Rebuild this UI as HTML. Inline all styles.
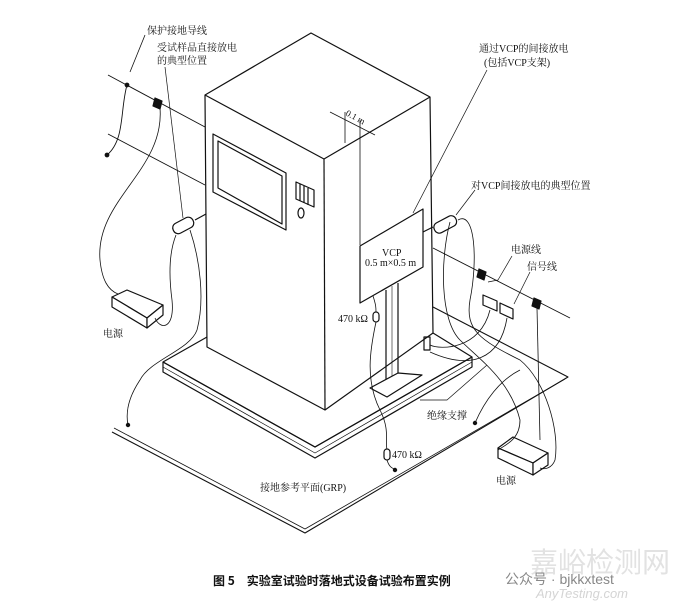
<!DOCTYPE html>
<html><head><meta charset="utf-8"><style>
html,body{margin:0;padding:0;background:#fff}
svg{display:block}
text{font-family:"Liberation Serif","Noto Serif CJK SC","Noto Sans CJK SC",serif;fill:#111}
</style></head><body>
<svg width="680" height="606" viewBox="0 0 680 606" xmlns="http://www.w3.org/2000/svg">
<g fill="none" stroke="#111" stroke-width="1.2" stroke-linejoin="round">
<!-- GRP -->
<polyline points="433,307 568,377 305,533 112,432" stroke-width="1.1"/>
<polyline points="565,379 305,529 114,428" stroke-width="0.8"/>
<!-- platform -->
<polygon points="163,362 207,337 433,333 472,357 315,447" fill="#fff"/>
<polyline points="163,362 163,372 315,458 472,367 472,357"/>
<polyline points="163,367 315,453 472,362" stroke-width="0.7"/>
<polyline points="163,362 315,447 472,357"/>
<!-- cabinet -->
<polygon points="205,95 311,33 430,97 433,333 325,410 207,347" fill="#fff"/>
<polyline points="205,95 324,159 430,97"/>
<line x1="324" y1="159" x2="325" y2="410"/>
<!-- screen -->
<polygon points="213,134 286,173 286,230 213,192"/>
<polygon points="218,141 282,176 282,224 218,188"/>
<polygon points="296,182 314,190 314,207 296,199"/>
<line x1="300" y1="184" x2="300" y2="201"/><line x1="304" y1="186" x2="304" y2="203"/><line x1="308" y1="188" x2="308" y2="205"/>
<ellipse cx="301" cy="213" rx="3" ry="5"/>
<!-- ground wire -->
<line x1="108" y1="75" x2="205" y2="127" stroke-width="0.9"/>
<line x1="108" y1="134" x2="205" y2="185" stroke-width="0.9"/>
<line x1="433" y1="248" x2="570" y2="318" stroke-width="0.9"/>
<path d="M127,85 C120,110 125,140 107,155" stroke-width="0.9"/>
<circle cx="127" cy="85" r="1.8" fill="#111"/><circle cx="107" cy="155" r="1.8" fill="#111"/>
<path d="M145,35 L130,72" stroke-width="0.8"/>
<polygon points="155,98 162,101 160,109 153,106" fill="#111"/>
<polygon points="479,269 486,272 484,280 477,277" fill="#111"/>
<polygon points="534,298 541,301 539,309 532,306" fill="#111"/>
<!-- 0.1 m -->
<line x1="345" y1="112" x2="345" y2="143" stroke-width="0.8"/>
<line x1="360" y1="120" x2="360" y2="245" stroke-width="0.8"/>
<line x1="330" y1="112" x2="375" y2="135" stroke-width="0.8"/>
<!-- VCP panel -->
<polygon points="360,246 423,209 423,267 360,303" fill="#fff"/>
<!-- stand -->
<line x1="386" y1="290" x2="386" y2="386"/><line x1="398" y1="283" x2="398" y2="380"/>
<line x1="392" y1="286" x2="392" y2="383" stroke-width="0.6"/>
<polygon points="370,388 398,373 422,375 387,397" fill="#fff"/>
<!-- probes -->
<rect x="172" y="220" width="22" height="11" rx="5" transform="rotate(-28 183 225)" fill="#fff"/>
<line x1="195" y1="220" x2="206" y2="214"/>
<rect x="433" y="219" width="24" height="11" rx="5" transform="rotate(-28 445 224)" fill="#fff"/>
<line x1="423" y1="232" x2="433" y2="227"/>
<!-- left power box -->
<polygon points="112,297 127,290 163,305 147,318" fill="#fff"/>
<polygon points="112,297 147,318 147,328 112,307" fill="#fff"/>
<polygon points="147,318 163,305 163,315 147,328" fill="#fff"/>
<!-- right power box -->
<polygon points="498,448 513,437 548,453 533,463" fill="#fff"/>
<polygon points="498,448 533,463 533,475 498,458" fill="#fff"/>
<polygon points="533,463 548,453 548,465 533,475" fill="#fff"/>
<!-- connectors -->
<polygon points="483,295 497,301 497,311 483,305"/>
<polygon points="500,303 513,309 513,319 500,313"/>
<rect x="424" y="337" width="6" height="13"/>
<!-- cables -->
<g stroke-width="0.8">
<path d="M160,108 C165,170 95,200 100,260 C102,280 108,290 118,294"/>
<path d="M155,318 C160,330 175,330 172,300 C168,270 170,250 176,235"/>
<path d="M190,230 C200,260 205,300 197,330 C190,350 150,360 140,380 C130,395 125,410 128,425"/>
<path d="M458,220 C475,210 478,260 470,300 C465,330 480,340 520,360 C545,380 560,430 555,460 C552,468 545,470 540,468"/>
<path d="M450,222 C440,260 440,320 460,340 C480,360 510,380 520,420 C520,440 505,445 498,450"/>
<path d="M490,310 C480,350 440,350 430,345"/>
<path d="M507,318 C500,360 470,370 430,352"/>
<path d="M537,308 L540,440"/>
<path d="M376,322 C370,350 365,380 380,410 C390,430 385,440 387,450"/>
<path d="M387,460 C390,470 395,468 395,470"/>
<path d="M475,423 C485,400 500,380 520,370"/>
<path d="M373,296 C376,305 376,308 376,312"/>
</g>
<rect x="373" y="312" width="6" height="10" rx="3" fill="#fff"/>
<rect x="384" y="449" width="6" height="11" rx="3" fill="#fff"/>
<circle cx="395" cy="470" r="1.6" fill="#111"/><circle cx="128" cy="425" r="1.6" fill="#111"/><circle cx="475" cy="423" r="1.6" fill="#111"/>
<!-- leaders -->
<g stroke-width="0.7">
<line x1="165" y1="67" x2="183" y2="218"/>
<line x1="487" y1="70" x2="413" y2="213"/>
<line x1="475" y1="190" x2="456" y2="215"/>
<polyline points="512,256 498,280 488,282"/>
<line x1="530" y1="272" x2="514" y2="304"/>
<polyline points="420,400 447,400 487,365"/>
</g>
</g>
<g font-size="10">
<text x="147" y="34">保护接地导线</text>
<text x="157" y="51">受试样品直接放电</text>
<text x="157" y="64">的典型位置</text>
<text x="479" y="52">通过VCP的间接放电</text>
<text x="484" y="66">(包括VCP支架)</text>
<text x="471" y="189">对VCP间接放电的典型位置</text>
<text x="511" y="253">电源线</text>
<text x="527" y="270">信号线</text>
<text x="382" y="256">VCP</text>
<text x="365" y="266">0.5 m×0.5 m</text>
<text x="338" y="322">470 kΩ</text>
<text x="392" y="458">470 kΩ</text>
<text x="427" y="419">绝缘支撑</text>
<text x="103" y="337">电源</text>
<text x="496" y="484">电源</text>
<text x="260" y="491">接地参考平面(GRP)</text>
<text x="345" y="115" transform="rotate(28 345 115)" font-size="9">0.1 m</text>
</g>
<text x="213" y="585" font-size="12" font-weight="bold" style="font-family:'Noto Sans CJK SC',sans-serif">图 5　实验室试验时落地式设备试验布置实例</text>
<text x="530" y="572" font-size="28" style="fill:#e2e2e2;font-family:'Noto Sans CJK SC',sans-serif">嘉峪检测网</text>
<text x="505" y="584" font-size="14" style="fill:#888;font-family:'Liberation Sans','Noto Sans CJK SC',sans-serif">公众号 · bjkkxtest</text>
<text x="536" y="598" font-size="13" font-style="italic" style="fill:#d4d4d4;font-family:'Liberation Sans',sans-serif">AnyTesting.com</text>
</svg>
</body></html>
